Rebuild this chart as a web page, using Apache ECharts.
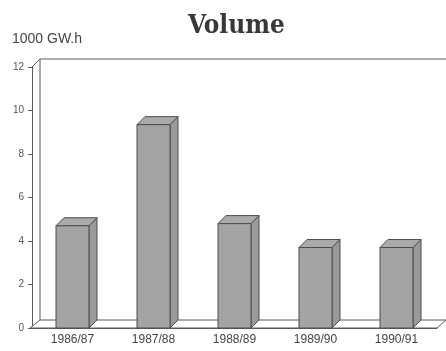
<!DOCTYPE html>
<html><head><meta charset="utf-8">
<script src="https://cdn.jsdelivr.net/npm/echarts@6/dist/echarts.min.js"></script>
<style>html,body{margin:0;padding:0;background:#fff}#chart{width:446px;height:351px}</style>
</head><body><div id="chart"></div>
<script>
const seasons = ['1986/87', '1987/88', '1988/89', '1989/90', '1990/91'];
const volume = [4.7, 9.35, 4.8, 3.7, 3.7];
const yMin = 0, yMax = 12, yStep = 2;

const chart = echarts.init(document.getElementById('chart'), null, { renderer: 'canvas' });

// depth offset of the pseudo-3D boxes and walls
const DX = 8, DY = -8;
const BAR_W = 33;
const EDGE = '#4d4d4d';
const LINE = '#5a5a5a';

function barItem(params, api) {
  const v = api.value(1);
  const base = api.coord([api.value(0), 0]);
  const top = api.coord([api.value(0), v]);
  const x0 = base[0] - BAR_W / 2, x1 = base[0] + BAR_W / 2;
  const y0 = base[1], y1 = top[1];
  const st = { stroke: EDGE, lineWidth: 1 };
  return {
    type: 'group',
    children: [
      { type: 'polygon', shape: { points: [[x1, y0], [x1 + DX, y0 + DY], [x1 + DX, y1 + DY], [x1, y1]] },
        style: Object.assign({ fill: '#9a9a9a' }, st) },
      { type: 'polygon', shape: { points: [[x0, y1], [x1, y1], [x1 + DX, y1 + DY], [x0 + DX, y1 + DY]] },
        style: Object.assign({ fill: '#aaaaaa' }, st) },
      { type: 'rect', shape: { x: x0, y: y1, width: BAR_W, height: y0 - y1 },
        style: Object.assign({ fill: '#a4a4a4' }, st) }
    ]
  };
}

// back wall, top edge and floor of the plotting box
function frameItem(params, api) {
  const c = params.coordSys;
  const x = c.x, y = c.y, w = c.width, h = c.height;
  const st = { stroke: LINE, lineWidth: 1, fill: null };
  return {
    type: 'group',
    children: [
      { type: 'polygon', shape: { points: [[x - 2, y + h], [x + w, y + h], [x + w + DX + 1, y + h + DY], [x + DX, y + h + DY]] },
        style: { stroke: LINE, lineWidth: 1, fill: '#fff' } },
      { type: 'polyline', shape: { points: [[x + DX, y + h + DY], [x + DX, y + DY], [x + w + DX + 2, y + DY]] }, style: st },
      { type: 'line', shape: { x1: x, y1: y, x2: x + DX, y2: y + DY }, style: st }
    ]
  };
}

chart.setOption({
  animation: false,
  backgroundColor: '#fff',
  title: [
    { text: 'Volume', left: 183, top: 8,
      textStyle: { fontFamily: '"DejaVu Serif Condensed", "DejaVu Serif"', fontWeight: 'bold', fontSize: 26, color: '#383838' } },
    { text: '1000 GW.h', left: 7, top: 27,
      textStyle: { fontFamily: 'Liberation Sans', fontWeight: 'normal', fontSize: 14, color: '#444' } }
  ],
  grid: { left: 32, right: 9, top: 67, bottom: 23 },
  xAxis: {
    type: 'category', data: seasons,
    axisLine: { lineStyle: { color: LINE, width: 1 } },
    axisTick: { show: false },
    axisLabel: { fontFamily: 'Liberation Sans', fontSize: 12, color: '#444', margin: 6 }
  },
  yAxis: {
    type: 'value', min: yMin, max: yMax, interval: yStep,
    axisLine: { show: true, lineStyle: { color: LINE, width: 1 } },
    axisTick: { show: true, length: 4, lineStyle: { color: LINE } },
    axisLabel: { fontFamily: 'Liberation Sans', fontSize: 10, color: '#555', margin: 8 },
    splitLine: { show: false }
  },
  series: [
    { type: 'custom', z: 1, renderItem: frameItem, data: [[0, 0]], silent: true },
    { type: 'custom', z: 2, renderItem: barItem, encode: { x: 0, y: 1 },
      data: seasons.map((s, i) => [i, volume[i]]) }
  ]
});
</script>
</body></html>
